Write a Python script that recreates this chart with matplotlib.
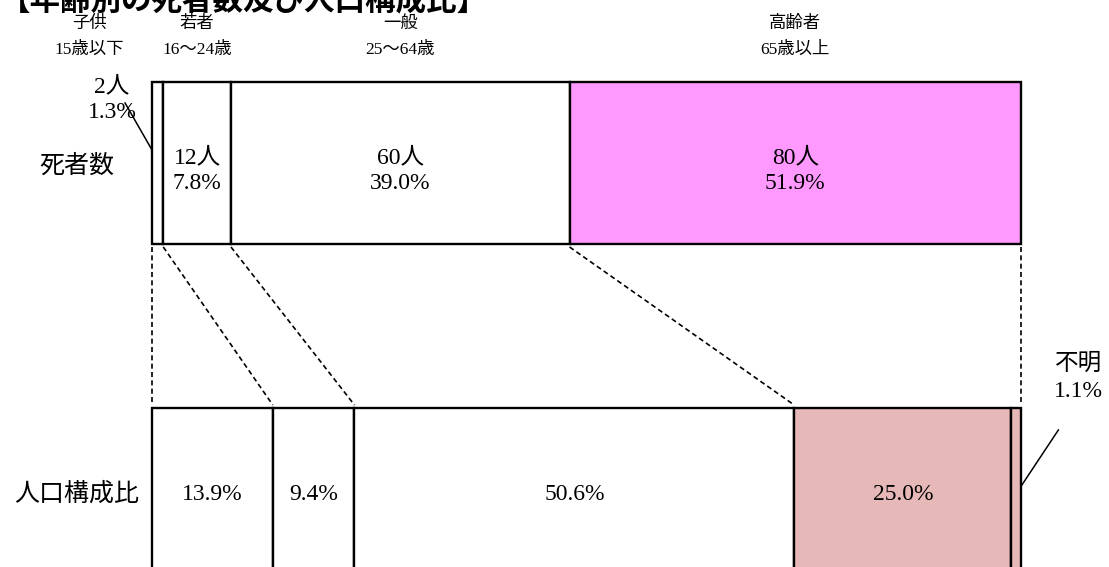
import matplotlib.pyplot as plt
import numpy as np

plt.rcParams['font.family'] = ['Liberation Serif', 'Noto Sans CJK JP']

# --- データ
groups = ['子供', '若者', '一般', '高齢者']
ages = ['15歳以下', '16～24歳', '25～64歳', '65歳以上']
deaths = [2, 12, 60, 80]
death_pct = [1.3, 7.8, 39.0, 51.9]
pop_labels = ['子供', '若者', '一般', '高齢者', '不明']
pop_pct = [13.9, 9.4, 50.6, 25.0, 1.1]

top_colors = ['white', 'white', 'white', '#FF99FF']
bot_colors = ['white', 'white', 'white', '#E6B8B7', '#E6B8B7']

W, H = 1109, 567
fig = plt.figure(figsize=(W / 100, H / 100), dpi=100)
# 横軸は 0-100 (%), 縦軸はピクセル相当（下向き）
ax = fig.add_axes([152 / W, 0, 869 / W, 1])
ax.set_xlim(0, 100)
ax.set_ylim(H, 0)
ax.axis('off')

top_w = np.array(deaths) / sum(deaths) * 100
top_left = np.concatenate([[0], np.cumsum(top_w)[:-1]])
bot_w = np.array(pop_pct)
bot_left = np.concatenate([[0], np.cumsum(bot_w)[:-1]])

y_top, h_top = 163, 162
y_bot, h_bot = 494, 172

ax.barh(y_top, top_w, left=top_left, height=h_top, color=top_colors,
        edgecolor='black', linewidth=1.7, clip_on=False)
ax.barh(y_bot, bot_w, left=bot_left, height=h_bot, color=bot_colors,
        edgecolor='black', linewidth=1.7, clip_on=False)

# --- 破線の対応線
top_b = np.concatenate([[0], np.cumsum(top_w)])
bot_b = np.concatenate([[0], np.cumsum(bot_w)[:-2], [100]])
for a, b in zip(top_b, bot_b):
    ax.plot([a, b], [y_top + h_top / 2 + 3, y_bot - h_bot / 2 - 3],
            ls=(0, (3, 2)), color='black', lw=1.2, clip_on=False)

# --- 見出し
for i, (g, a) in enumerate(zip(groups, ages)):
    cx = top_left[i] + top_w[i] / 2
    if i == 0:
        cx = -7.2
    ax.text(cx, 24, g, ha='center', va='center', fontsize=12.5)
    ax.text(cx, 50, a, ha='center', va='center', fontsize=12.5)

# --- 死者数ラベル
for i in range(1, 4):
    cx = top_left[i] + top_w[i] / 2
    ax.text(cx, y_top + 8, f'{deaths[i]}人\n{death_pct[i]:.1f}%', ha='center',
            va='center', fontsize=17, linespacing=1.3)
ax.text(-4.6, 100, f'{deaths[0]}人\n{death_pct[0]:.1f}%', ha='center',
        va='center', fontsize=17, linespacing=1.3)
ax.plot([-3.1, 0], [103, 150], color='black', lw=1.1, clip_on=False)

# --- 人口構成比ラベル
for i in range(4):
    cx = bot_left[i] + bot_w[i] / 2
    ax.text(cx, y_bot, f'{pop_pct[i]:.1f}%', ha='center', va='center', fontsize=17)
ax.text(106.6, 378, f'{pop_labels[4]}\n{pop_pct[4]:.1f}%', ha='center',
        va='center', fontsize=17, linespacing=1.4, clip_on=False)
ax.plot([104.3, 100.1], [430, 485], color='black', lw=1.1, clip_on=False)

# --- 行ラベル
ax.text(-8.7, y_top + 3, '死者数', ha='center', va='center', fontsize=18)
ax.text(-8.7, y_bot, '人口構成比', ha='center', va='center', fontsize=18)

# --- タイトル（上端で切れている）
fig.text(0.0, 1 - 10 / H, '【年齢別の死者数及び人口構成比】', ha='left',
         va='baseline', fontsize=22, fontweight='bold')

fig.savefig('out.png', dpi=100)
